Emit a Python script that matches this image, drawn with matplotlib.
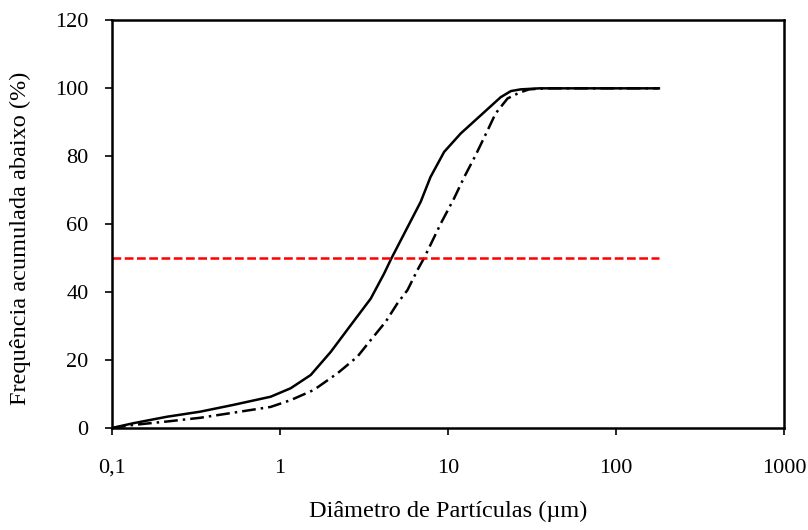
import numpy as np
import matplotlib
matplotlib.use('Agg')
import matplotlib.pyplot as plt
from matplotlib.ticker import FixedLocator, FixedFormatter, NullLocator

plt.rcParams['font.family'] = ['Liberation Serif', 'DejaVu Serif']

# Solid curve (cumulative % passing)
d_solid = [0.1, 0.134, 0.212, 0.335, 0.528, 0.88, 1.158, 1.524, 2.005, 2.64,
           3.47, 4.17, 4.6, 5.66, 6.88, 7.87, 9.49, 11.9, 15.7, 20.6, 23.7,
           27.1, 35, 180]
f_solid = [0, 1.4, 3.3, 4.8, 6.8, 9.2, 11.7, 15.6, 22.4, 30.3,
           38.1, 45.5, 49.9, 58.5, 66.6, 73.9, 81.3, 86.7, 92.1, 97.4, 99.2,
           99.7, 100, 100]

# Dash-dot curve
d_dash = [0.1, 0.134, 0.212, 0.335, 0.528, 0.88, 1.158, 1.59, 2.2, 2.89,
          3.47, 4.26, 5.0, 5.74, 6.58, 7.2, 9.06, 10.87, 12.5, 14.6, 17.2,
          19.2, 22.6, 26.5, 30.4, 38, 180]
f_dash = [0, 0.9, 1.9, 3.0, 4.5, 6.2, 8.2, 11.2, 16.1, 21.0,
          25.9, 31.3, 36.7, 40.6, 46.5, 50.0, 60.2, 67.6, 73.9, 80.3, 87.6,
          92.6, 97.0, 98.7, 99.7, 100, 100]

# 50 % reference line
d_ref = [0.1, 180]
f_ref = [50, 50]

xticks = [0.1, 1, 10, 100, 1000]
xtick_labels = ['0,1', '1', '10', '100', '1000']
yticks = [0, 20, 40, 60, 80, 100, 120]

fig = plt.figure(figsize=(8.08, 5.30), dpi=100)
ax = fig.add_axes([0.1386, 0.1925, 0.8317, 0.769])

ax.plot(d_solid, f_solid, color='black', lw=1.8, solid_joinstyle='round')
ax.plot(d_dash, f_dash, color='black', lw=1.8, linestyle=(0, (5.5, 2, 1, 2)))
ax.plot(d_ref, f_ref, color='red', lw=1.8, linestyle=(0, (3.5, 1.4)))

ax.set_xscale('log')
ax.set_xlim(0.1, 1000)
ax.set_ylim(0, 120)
ax.xaxis.set_major_locator(FixedLocator(xticks))
ax.xaxis.set_major_formatter(FixedFormatter(xtick_labels))
ax.xaxis.set_minor_locator(NullLocator())
ax.set_yticks(yticks)

ax.tick_params(axis='both', direction='out', length=5, width=1.2,
               labelsize=16, colors='black')
ax.tick_params(axis='x', pad=17)
ax.tick_params(axis='y', pad=12)
for s in ax.spines.values():
    s.set_linewidth(1.8)

ax.set_xlabel('Diâmetro de Partículas (µm)', fontsize=17.5)
ax.set_ylabel('Frequência acumulada abaixo (%)', fontsize=17.5)
ax.xaxis.label.set_va('top')
ax.xaxis.set_label_coords(0.5, -0.178)
ax.yaxis.label.set_va('center')
ax.yaxis.set_label_coords(-0.137, 0.465)

fig.savefig('out.png', dpi=100)
